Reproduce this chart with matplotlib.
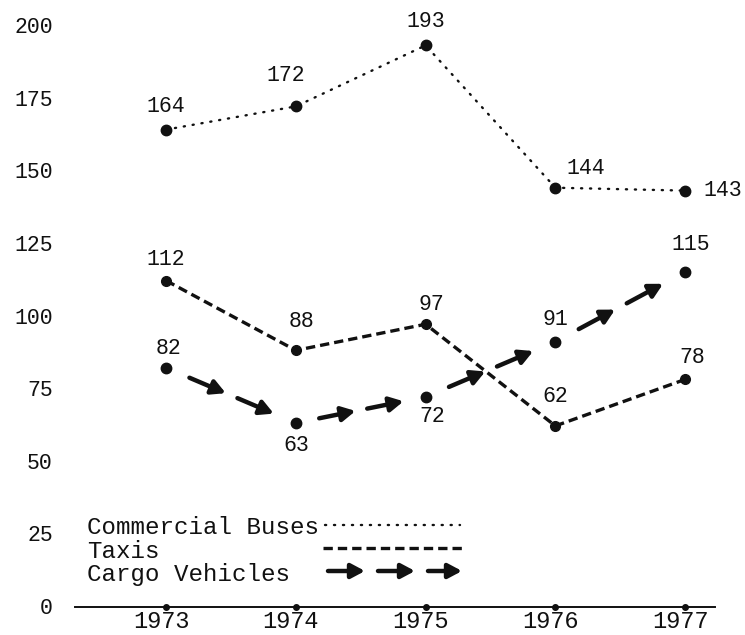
import numpy as np
import matplotlib
matplotlib.use("Agg")
import matplotlib.pyplot as plt
from matplotlib.patches import FancyArrowPatch
from matplotlib.transforms import Affine2D, ScaledTranslation

# ---- data ----
years = [1973, 1974, 1975, 1976, 1977]
buses = [164, 172, 193, 144, 143]
taxis = [112, 88, 97, 62, 78]
cargo = [82, 63, 72, 91, 115]
y_ticks = [0, 25, 50, 75, 100, 125, 150, 175, 200]
series_names = ["Commercial Buses", "Taxis", "Cargo Vehicles"]

# value-label offsets (points) relative to each marker
bus_offsets = [(0, 17), (-7, 22), (0, 17), (22, 14), (27, 0)]
taxi_offsets = [(0, 15), (4, 21), (4, 14), (0, 21), (5, 16)]
cargo_offsets = [(2, 14), (0, -16), (5, -14), (0, 16), (4, 20)]

FONT = "Liberation Mono"
INK = "#111111"
plt.rcParams["font.family"] = [FONT, "DejaVu Sans Mono"]

fig = plt.figure(figsize=(7.45, 6.35), dpi=100)
W, H = 745, 635
ax = fig.add_axes([75 / W, (H - 612) / H, (715 - 75) / W, (612 - 5) / H])
ax.set_xlim(1972.298, 1977.230)
ax.set_ylim(-2.07, 206.9)

# axes styling: only a baseline at zero
for side in ("top", "right", "left"):
    ax.spines[side].set_visible(False)
ax.spines["bottom"].set_position(("data", -0.5))
ax.spines["bottom"].set_linewidth(1.4)
ax.spines["bottom"].set_color(INK)
ax.set_yticks(y_ticks)
ax.set_yticklabels([str(v) for v in y_ticks])
ax.set_xticks(years)
ax.set_xticklabels([str(y) for y in years])
ax.tick_params(axis="y", length=0, pad=16, labelsize=15.5, labelcolor=INK)
ax.tick_params(axis="x", length=0, pad=2, labelsize=17, labelcolor=INK)
shift = ScaledTranslation(-5 / 100, 0, fig.dpi_scale_trans)
for lab in ax.get_xticklabels():
    lab.set_transform(lab.get_transform() + shift)
ax.patch.set_alpha(0)

# tick dots on the baseline
ax.plot(years, [-0.5] * len(years), "o", color=INK, ms=4, clip_on=False, zorder=5)

# Commercial Buses: dotted
ax.plot(years, buses, color=INK, lw=1.7, linestyle=(0, (0.5, 3.3)),
        dash_capstyle="round", marker="o", ms=7.5, mfc=INK, mec=INK, zorder=3)
# Taxis: dashed
ax.plot(years, taxis, color=INK, lw=2.4, linestyle=(0, (2.8, 1.5)),
        marker="o", ms=7, mfc=INK, mec=INK, zorder=3)
# Cargo Vehicles: markers joined by arrows
ax.plot(years, cargo, linestyle="none", marker="o", ms=7.5,
        mfc=INK, mec=INK, zorder=3)

ARROW = "-|>,head_length=0.45,head_width=0.24"
for i in range(len(years) - 1):
    x0, y0, x1, y1 = years[i], cargo[i], years[i + 1], cargo[i + 1]
    for t0, t1 in ((0.18, 0.46), (0.55, 0.83)):
        a = FancyArrowPatch((x0 + (x1 - x0) * t0, y0 + (y1 - y0) * t0),
                            (x0 + (x1 - x0) * t1, y0 + (y1 - y0) * t1),
                            arrowstyle=ARROW, mutation_scale=18, lw=3.2,
                            color=INK, shrinkA=0, shrinkB=0, zorder=4)
        ax.add_patch(a)

# value labels
for vals, offs in ((buses, bus_offsets), (taxis, taxi_offsets), (cargo, cargo_offsets)):
    for x, v, (dx, dy) in zip(years, vals, offs):
        ax.annotate(str(v), (x, v), xytext=(dx, dy), textcoords="offset points",
                    ha="center", va="center", fontsize=15.5, color=INK,
                    annotation_clip=False)

# key drawn in figure pixel space (origin top-left)
px = Affine2D().scale(1 / W, -1 / H).translate(0, 1) + fig.transFigure
key_y = [527, 551, 574]
for name, y in zip(series_names, key_y):
    fig.text(87, y, name, transform=px, ha="left", va="center",
             fontsize=17.4, color=INK)
fig.lines.append(plt.Line2D([325, 460], [525, 525], transform=px, color=INK,
                            lw=1.7, linestyle=(0, (0.5, 3.3)), dash_capstyle="round"))
fig.lines.append(plt.Line2D([323, 462], [548, 548], transform=px, color=INK,
                            lw=2.4, linestyle=(0, (2.8, 1.5))))
for xa, xb in ((328, 365), (378, 415), (428, 462)):
    fig.patches.append(FancyArrowPatch((xa, 571), (xb, 571), transform=px,
                                       arrowstyle=ARROW, mutation_scale=18,
                                       lw=3.2, color=INK, shrinkA=0, shrinkB=0))

fig.savefig("out.png", dpi=100, facecolor="white")
